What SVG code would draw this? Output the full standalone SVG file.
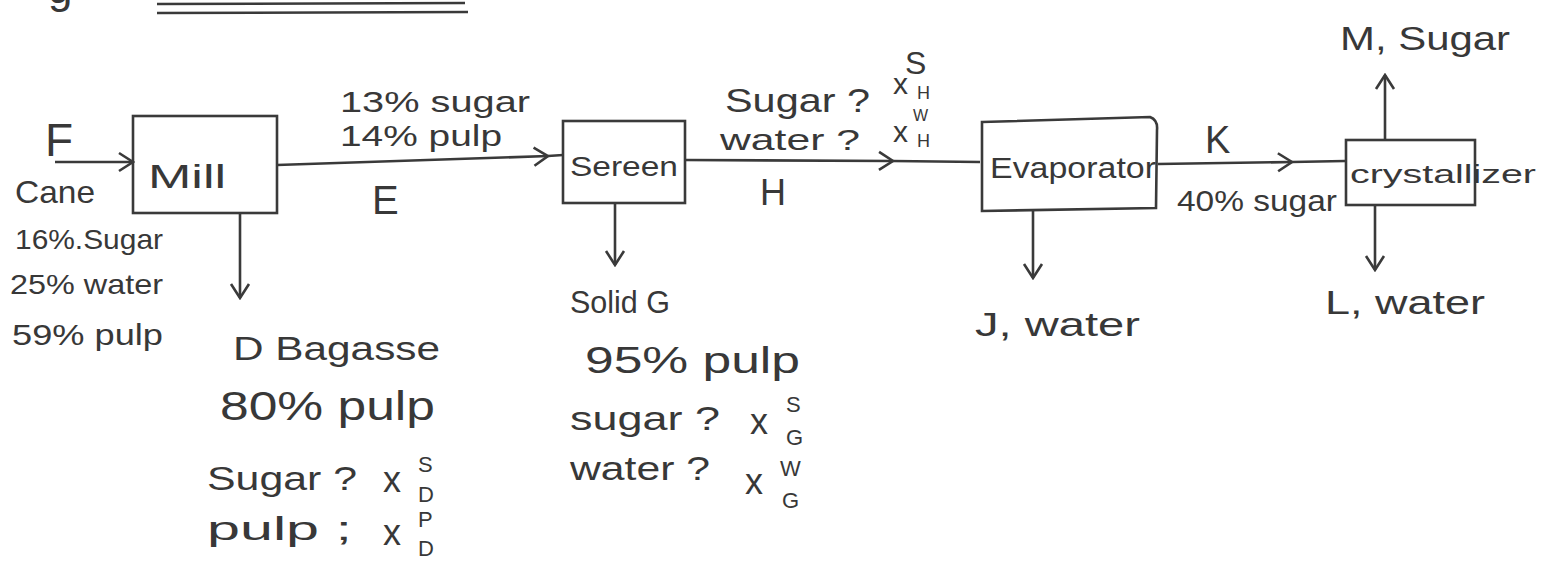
<svg xmlns="http://www.w3.org/2000/svg" width="1542" height="562" viewBox="0 0 1542 562">
<style>
.t{font-family:"Liberation Sans","DejaVu Sans",sans-serif;fill:#383838;}
.box{fill:none;stroke:#3a3a3a;stroke-width:2.6;}
.ln{fill:none;stroke:#3a3a3a;stroke-width:2.6;}
</style>
<defs>
<marker id="arr" viewBox="-16 -11 18 22" markerWidth="18" markerHeight="22" refX="0" refY="0" orient="auto" markerUnits="userSpaceOnUse">
<path d="M-14,-9 L0,0 L-14,9" fill="none" stroke="#3a3a3a" stroke-width="2.6"/>
</marker>
</defs>
<rect width="1542" height="562" fill="#ffffff"/>

<g id="header">
<text class="t" x="48" y="3" font-size="44">g</text>
<line class="ln" x1="157" y1="4" x2="465" y2="3"/>
<line class="ln" x1="157" y1="13" x2="468" y2="12"/>
</g>

<g id="connectors">
<path class="ln" d="M55,162 L133,162" marker-end="url(#arr)"/>
<path class="ln" d="M277,165 L548,156 L563,155" marker-mid="url(#arr)"/>
<path class="ln" d="M240,213 L240,298" marker-end="url(#arr)"/>
<path class="ln" d="M615,203 L615,265" marker-end="url(#arr)"/>
<path class="ln" d="M685,160 L893,161 L980,162" marker-mid="url(#arr)"/>
<path class="ln" d="M1033,210 L1033,278" marker-end="url(#arr)"/>
<path class="ln" d="M1158,164 L1292,162 L1345,161" marker-mid="url(#arr)"/>
<path class="ln" d="M1385,140 L1385,75" marker-end="url(#arr)"/>
<path class="ln" d="M1375,205 L1375,270" marker-end="url(#arr)"/>
</g>

<g id="feed">
<text class="t" x="45" y="156" font-size="46">F</text>
<text class="t" x="15" y="203" font-size="32" textLength="80" lengthAdjust="spacingAndGlyphs">Cane</text>
<text class="t" x="15" y="249" font-size="28" textLength="148" lengthAdjust="spacingAndGlyphs">16%.Sugar</text>
<text class="t" x="10" y="294" font-size="28" textLength="153" lengthAdjust="spacingAndGlyphs">25% water</text>
<text class="t" x="12" y="345" font-size="30" textLength="151" lengthAdjust="spacingAndGlyphs">59% pulp</text>
</g>

<g id="mill">
<rect class="box" x="133" y="116" width="144" height="97"/>
<text class="t" x="148" y="188" font-size="34" textLength="78" lengthAdjust="spacingAndGlyphs">Mill</text>
</g>

<g id="streamE">
<text class="t" x="340" y="112" font-size="30" textLength="190" lengthAdjust="spacingAndGlyphs">13% sugar</text>
<text class="t" x="340" y="146" font-size="30" textLength="162" lengthAdjust="spacingAndGlyphs">14% pulp</text>
<text class="t" x="372" y="214" font-size="40">E</text>
</g>

<g id="bagasseD">
<text class="t" x="233" y="360" font-size="34" textLength="207" lengthAdjust="spacingAndGlyphs">D Bagasse</text>
<text class="t" x="220" y="420" font-size="40" textLength="215" lengthAdjust="spacingAndGlyphs">80% pulp</text>
<text class="t" x="207" y="490" font-size="34" textLength="150" lengthAdjust="spacingAndGlyphs">Sugar ?</text>
<text class="t" x="383" y="492" font-size="36">x</text>
<text class="t" x="418" y="472" font-size="22">S</text>
<text class="t" x="418" y="502" font-size="22">D</text>
<text class="t" x="207" y="540" font-size="33" textLength="145" lengthAdjust="spacingAndGlyphs">pulp ;</text>
<text class="t" x="383" y="545" font-size="36">x</text>
<text class="t" x="418" y="527" font-size="22">P</text>
<text class="t" x="418" y="556" font-size="22">D</text>
</g>

<g id="screen">
<rect class="box" x="563" y="121" width="122" height="82"/>
<text class="t" x="570" y="176" font-size="28" textLength="108" lengthAdjust="spacingAndGlyphs">Sereen</text>
</g>

<g id="solidG">
<text class="t" x="570" y="313" font-size="32" textLength="100" lengthAdjust="spacingAndGlyphs">Solid G</text>
<text class="t" x="585" y="373" font-size="36" textLength="215" lengthAdjust="spacingAndGlyphs">95% pulp</text>
<text class="t" x="570" y="430" font-size="34" textLength="150" lengthAdjust="spacingAndGlyphs">sugar ?</text>
<text class="t" x="750" y="434" font-size="36">x</text>
<text class="t" x="786" y="412" font-size="22">S</text>
<text class="t" x="786" y="445" font-size="22">G</text>
<text class="t" x="570" y="480" font-size="34" textLength="140" lengthAdjust="spacingAndGlyphs">water ?</text>
<text class="t" x="745" y="494" font-size="36">x</text>
<text class="t" x="780" y="476" font-size="22">W</text>
<text class="t" x="782" y="508" font-size="22">G</text>
</g>

<g id="streamH">
<text class="t" x="725" y="112" font-size="34" textLength="145" lengthAdjust="spacingAndGlyphs">Sugar ?</text>
<text class="t" x="720" y="150" font-size="30" textLength="140" lengthAdjust="spacingAndGlyphs">water ?</text>
<text class="t" x="893" y="94" font-size="30">x</text>
<text class="t" x="905" y="74" font-size="32">S</text>
<text class="t" x="917" y="99" font-size="18">H</text>
<text class="t" x="893" y="142" font-size="30">x</text>
<text class="t" x="913" y="121" font-size="16">W</text>
<text class="t" x="917" y="147" font-size="18">H</text>
<text class="t" x="760" y="205" font-size="36">H</text>
</g>

<g id="evaporator">
<path class="box" d="M982,122 L1150,117 Q1158,120 1157,130 L1156,208 L982,211 Z"/>
<text class="t" x="990" y="178" font-size="30" textLength="166" lengthAdjust="spacingAndGlyphs">Evaporator</text>
</g>

<g id="waterJ">
<text class="t" x="975" y="336" font-size="34" textLength="165" lengthAdjust="spacingAndGlyphs">J, water</text>
</g>

<g id="streamK">
<text class="t" x="1205" y="153" font-size="38">K</text>
<text class="t" x="1177" y="211" font-size="30" textLength="160" lengthAdjust="spacingAndGlyphs">40% sugar</text>
</g>

<g id="crystallizer">
<rect class="box" x="1346" y="140" width="129" height="65"/>
<text class="t" x="1350" y="183" font-size="26" textLength="186" lengthAdjust="spacingAndGlyphs">crystallizer</text>
</g>

<g id="sugarM">
<text class="t" x="1340" y="50" font-size="34" textLength="170" lengthAdjust="spacingAndGlyphs">M, Sugar</text>
</g>

<g id="waterL">
<text class="t" x="1325" y="314" font-size="34" textLength="160" lengthAdjust="spacingAndGlyphs">L, water</text>
</g>
</svg>
